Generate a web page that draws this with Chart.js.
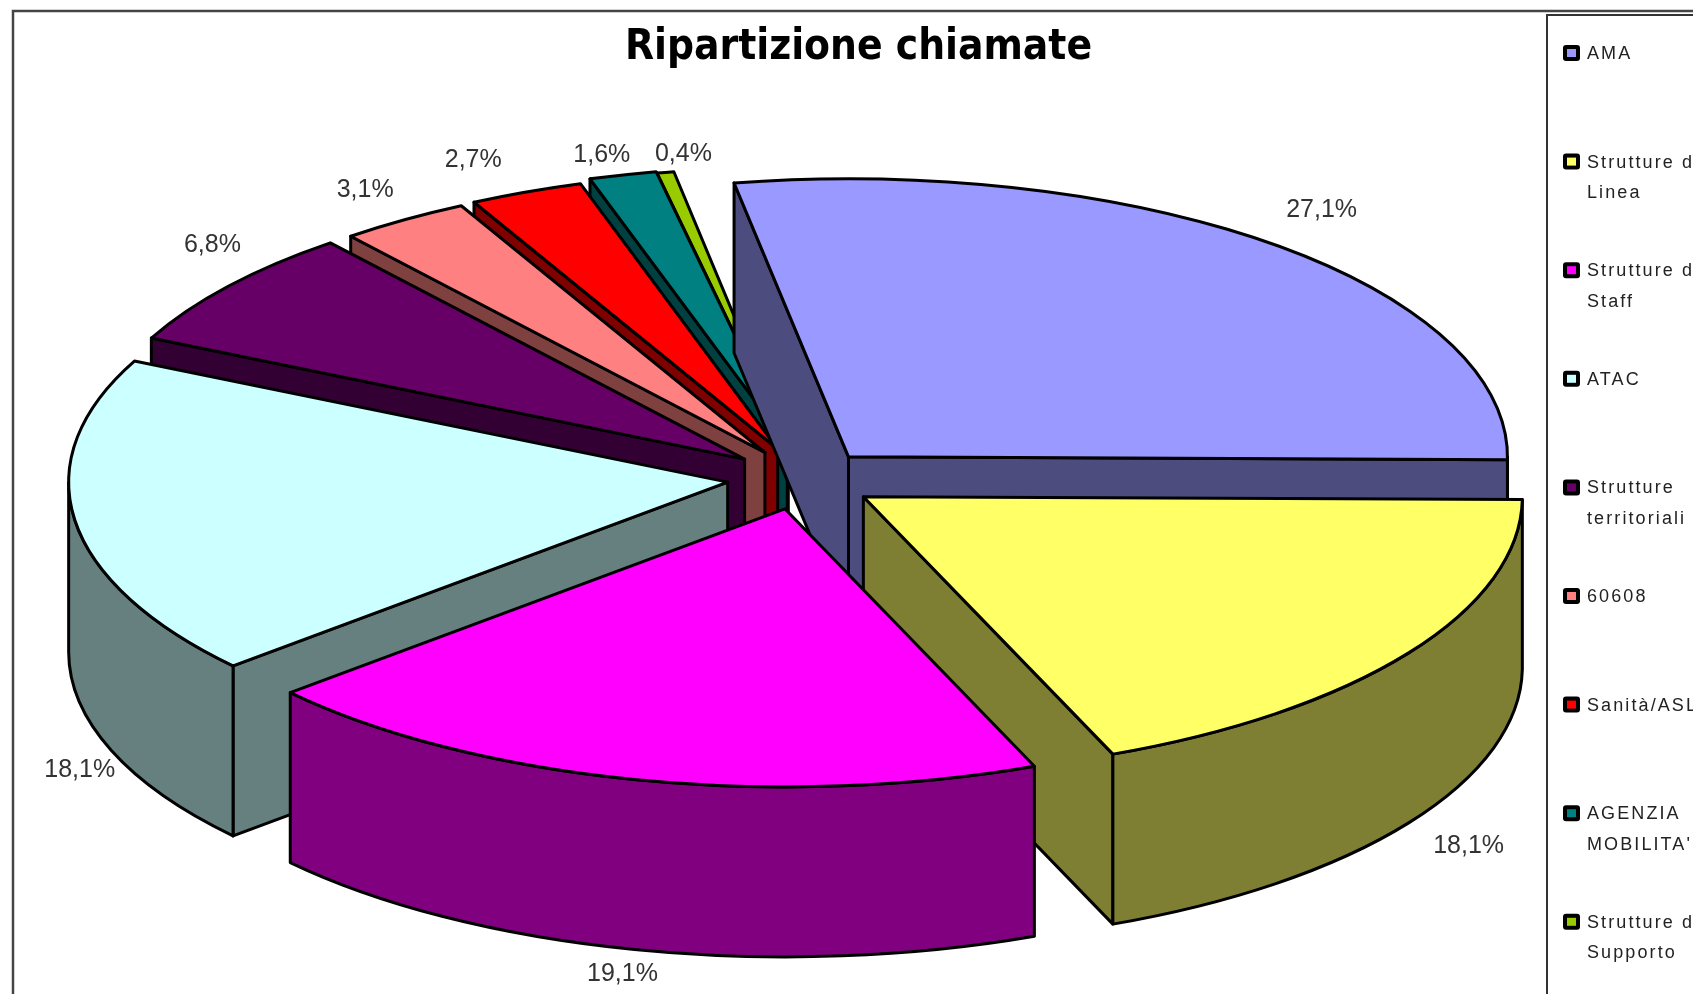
<!DOCTYPE html>
<html><head><meta charset="utf-8">
<style>html,body{margin:0;padding:0;background:#fff;overflow:hidden}canvas{display:block}</style>
<script src="https://cdn.jsdelivr.net/npm/chart.js@4"></script>
</head><body>
<canvas id="c" width="1693" height="994"></canvas>
<script>
const categories = ["AMA","Strutture di Linea","Strutture di Staff","ATAC","Strutture territoriali","60608","Sanità/ASL","AGENZIA MOBILITA'","Strutture di Supporto"];
const legendLines = [["AMA"],["Strutture di","Linea"],["Strutture di","Staff"],["ATAC"],["Strutture","territoriali"],["60608"],["Sanità/ASL"],["AGENZIA","MOBILITA'"],["Strutture di","Supporto"]];
const values = [27.1,18.1,19.1,18.1,6.8,3.1,2.7,1.6,0.4];
const valueLabels = ["27,1%","18,1%","19,1%","18,1%","6,8%","3,1%","2,7%","1,6%","0,4%"];
const topColors = ["#9999FF","#FFFF66","#FF00FF","#CCFFFF","#660066","#FF8080","#FF0000","#008080","#99CC00"];
const sideColors = ["#4C4C7F","#7F7F33","#800080","#667F7F","#330033","#7F4040","#800000","#004040","#4C6600"];
const explode = [75,79,75,72,72,75,82,95,95];
const apexShift = [[0,3],[-2,0],[2,0],[-1,0],[1,0],[6,1],[9,3],[11,5],[6,7]];
const labelNudge = [[47,-32],[58,193],[-10,195],[4,250],[-15,-41],[-33,-29],[-44,-29],[-10,-15],[24,-11]];
const view = {cx:800, cy:478, squash:0.422, depth:170, radius:659};

function geom(arc,i){
  const a=arc.startAngle,b=arc.endAngle,mid=(a+b)/2,d=explode[i],k=view.squash;
  return {a,b,mid,d,k,R:view.radius,
    px:view.cx+Math.cos(mid)*d+apexShift[i][0], py:view.cy+Math.sin(mid)*d*k+apexShift[i][1]};
}
function edge(g,t){return [g.px+Math.cos(t)*g.R, g.py+Math.sin(t)*g.R*g.k];}
function face(ctx,fill){ctx.fillStyle=fill;ctx.fill();ctx.stroke();}

const scene3d = {
  id:'scene3d',
  beforeDraw(chart){
    const ctx=chart.ctx;
    ctx.save();
    ctx.fillStyle='#fff';ctx.fillRect(0,0,chart.width,chart.height);
    ctx.strokeStyle='#444';ctx.lineWidth=2.5;
    ctx.beginPath();ctx.moveTo(13,chart.height);ctx.lineTo(13,11);ctx.lineTo(chart.width,11);ctx.stroke();
    ctx.strokeStyle='#333';ctx.lineWidth=2;
    ctx.beginPath();ctx.moveTo(1547,chart.height);ctx.lineTo(1547,15);ctx.lineTo(chart.width,15);ctx.stroke();
    ctx.restore();
  },
  beforeDatasetsDraw(chart){
    const ctx=chart.ctx, arcs=chart.getDatasetMeta(0).data;
    const order=arcs.map((arc,i)=>i).sort((p,q)=>Math.sin(geom(arcs[p],p).mid)-Math.sin(geom(arcs[q],q).mid));
    ctx.save();
    ctx.lineWidth=3;ctx.strokeStyle='#000';ctx.lineJoin='round';
    for(const i of order){
      const arc=arcs[i],g=geom(arc,i),D=view.depth,side=sideColors[i];
      const wall=(t)=>{const e=edge(g,t);ctx.beginPath();ctx.moveTo(g.px,g.py);ctx.lineTo(e[0],e[1]);
        ctx.lineTo(e[0],e[1]+D);ctx.lineTo(g.px,g.py+D);ctx.closePath();face(ctx,side);};
      if(Math.cos(g.a)<0) wall(g.a);
      if(Math.cos(g.b)>0) wall(g.b);
      const r0=Math.max(g.a,0),r1=Math.min(g.b,Math.PI);
      if(r1>r0){
        ctx.beginPath();
        ctx.ellipse(g.px,g.py,g.R,g.R*g.k,0,r0,r1);
        ctx.ellipse(g.px,g.py+D,g.R,g.R*g.k,0,r1,r0,true);
        ctx.closePath();face(ctx,side);
      }
      ctx.save();
      ctx.translate(g.px,g.py);ctx.scale(1,g.k);ctx.translate(-arc.x,-arc.y);
      arc.draw(ctx);
      ctx.restore();
      const e=edge(g,g.a);
      ctx.beginPath();ctx.moveTo(g.px,g.py);ctx.lineTo(e[0],e[1]);
      ctx.ellipse(g.px,g.py,g.R,g.R*g.k,0,g.a,g.b);ctx.closePath();ctx.stroke();
    }
    ctx.restore();
    return false;
  },
  afterDraw(chart){
    const ctx=chart.ctx, arcs=chart.getDatasetMeta(0).data;
    ctx.save();
    ctx.textAlign='center';ctx.textBaseline='middle';
    ctx.font='25px "Liberation Sans"';ctx.fillStyle='#333';
    arcs.forEach((arc,i)=>{
      const g=geom(arc,i),rr=view.radius+explode[i];
      const x=view.cx+Math.cos(g.mid)*rr+labelNudge[i][0];
      const y=view.cy+Math.sin(g.mid)*rr*g.k+labelNudge[i][1];
      ctx.fillText(valueLabels[i],x,y);
    });
    // legend
    ctx.textAlign='left';
    ctx.font='18px "Liberation Sans"';ctx.letterSpacing='2.1px';
    legendLines.forEach((lines,i)=>{
      const y=53+i*108.6;
      ctx.fillStyle='#000';ctx.beginPath();ctx.roundRect(1563,y-8,17,16,3);ctx.fill();
      ctx.fillStyle=topColors[i];ctx.fillRect(1567,y-4,9,8);
      ctx.fillStyle='#222';
      lines.forEach((t,j)=>ctx.fillText(t,1587,y+1+j*30.5));
    });
    ctx.restore();
  }
};

new Chart(document.getElementById('c'),{
  type:'pie',
  data:{labels:categories,datasets:[{data:values,backgroundColor:topColors,borderWidth:0,radius:view.radius}]},
  options:{
    responsive:false,animation:false,devicePixelRatio:1,
    rotation:-10,
    layout:{padding:{left:24}},
    plugins:{
      legend:{display:false},tooltip:{enabled:false},
      title:{display:true,text:'Ripartizione chiamate',color:'#000',
        font:{family:'"DejaVu Sans Condensed","DejaVu Sans"',weight:'bold',size:42},padding:{top:23,bottom:10}}
    }
  },
  plugins:[scene3d]
});
</script>
</body></html>
